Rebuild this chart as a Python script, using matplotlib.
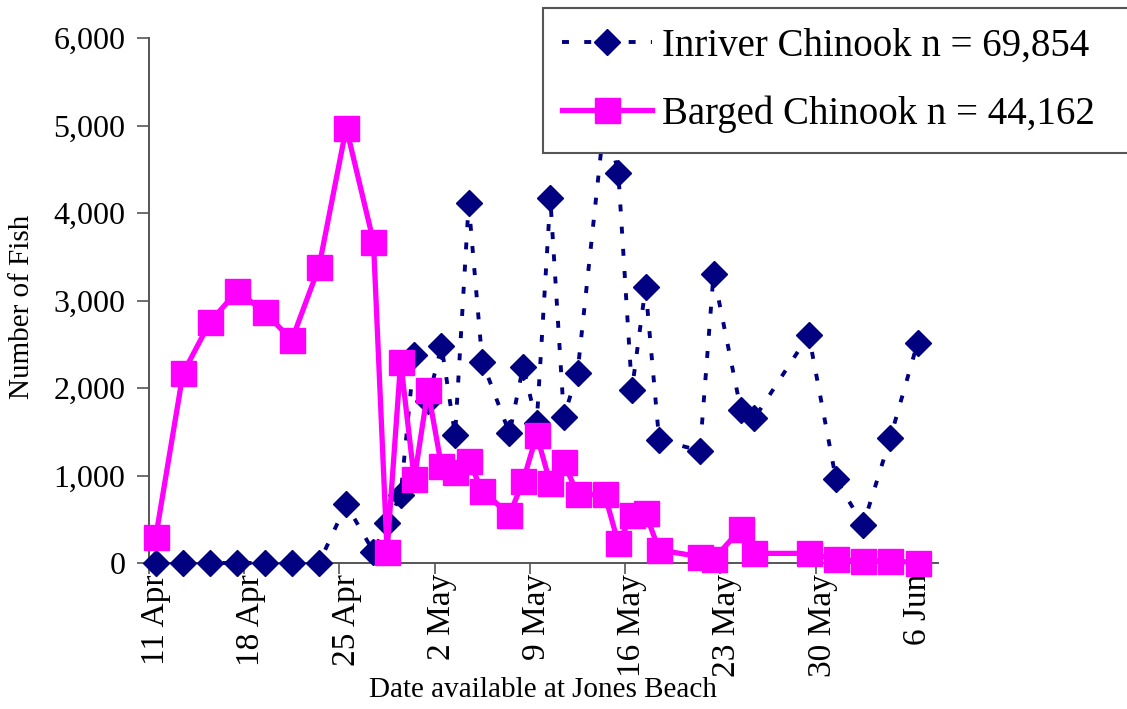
import matplotlib
matplotlib.use("Agg")
import matplotlib.pyplot as plt
from matplotlib.ticker import FuncFormatter, FixedLocator
from matplotlib.transforms import Bbox
import datetime as dt

# ---- data ----
dates = ["11 Apr", "13 Apr", "15 Apr", "17 Apr", "19 Apr", "21 Apr", "23 Apr",
         "25 Apr", "27 Apr", "28 Apr", "29 Apr", "30 Apr", "1 May", "2 May",
         "3 May", "4 May", "5 May", "7 May", "8 May", "9 May", "10 May",
         "11 May", "12 May", "14 May", "15 May", "16 May", "17 May", "18 May",
         "21 May", "22 May", "24 May", "25 May", "29 May", "31 May", "2 Jun",
         "4 Jun", "6 Jun"]
inriver = [0, 0, 0, 0, 0, 0, 0,
           670, 130, 453, 777, 2377, 1850, 2480,
           1463, 4110, 2301, 1482, 2244, 1600, 4168,
           1672, 2175, 5100, 4461, 1977, 3150, 1406,
           1284, 3303, 1754, 1653, 2606, 956, 434,
           1432, 2518]
barged = [300, 2168, 2758, 3109, 2865, 2549, 3387,
          4975, 3673, 130, 2301, 956, 1977, 1109,
          1044, 1170, 827, 549, 937, 1463, 910,
          1150, 785, 785, 225, 549, 568, 149,
          72, 42, 389, 110, 110, 42, 23,
          23, 5]
tick_labels = ["11 Apr", "18 Apr", "25 Apr", "2 May", "9 May", "16 May",
               "23 May", "30 May", "6 Jun"]
yticks = [0, 1000, 2000, 3000, 4000, 5000, 6000]
inriver_label = "Inriver Chinook n = 69,854"
barged_label = "Barged Chinook n = 44,162"

# ---- convert dates to day index from 11 Apr ----
start = dt.datetime(2000, 4, 11)
def day_index(s):
    return (dt.datetime.strptime(s + " 2000", "%d %b %Y") - start).days
x = [day_index(s) for s in dates]
tick_pos = [day_index(s) for s in tick_labels]

plt.rcParams['font.family'] = ['Liberation Serif', 'DejaVu Serif']
plt.rcParams['lines.scale_dashes'] = False

W, H = 1127, 709
fig = plt.figure(figsize=(W / 100, H / 100), dpi=100)
ax = fig.add_axes([149 / W, 1 - 563 / H, (938 - 149) / W, (563 - 38) / H])

navy = "#000080"
magenta = "#FF00FF"

ax.plot(x, inriver, color=navy, lw=2.8, linestyle=(0, (5, 11)),
        marker="D", markersize=13.5, markerfacecolor=navy,
        markeredgecolor=navy, label=inriver_label, clip_on=False, zorder=3)
ax.plot(x, barged, color=magenta, lw=3.8, solid_joinstyle="miter",
        marker="s", markersize=18, markerfacecolor=magenta,
        markeredgecolor=magenta, label=barged_label, clip_on=False, zorder=4)

ax.set_xlim(-0.5, 57.5)
ax.set_ylim(0, 6000)

# major ticks at slot boundaries, labels centred in day slots
ax.xaxis.set_major_locator(FixedLocator([p - 0.5 for p in tick_pos]))
ax.xaxis.set_major_formatter(FuncFormatter(lambda v, p: ""))
ax.set_xticks(tick_pos, minor=True)
ax.set_xticklabels(tick_labels, minor=True, rotation=90, fontsize=24)
ax.tick_params(axis="x", which="minor", length=0, pad=8)
ax.tick_params(axis="x", which="major", length=8, width=1.2, color="#555555",
               direction="out")

ax.set_yticks(yticks)
ax.yaxis.set_major_formatter(FuncFormatter(lambda v, p: f"{int(v):,}"))
ax.tick_params(axis="y", length=9, width=1.2, color="#555555",
               direction="out", labelsize=23, pad=8)

for s in ["top", "right"]:
    ax.spines[s].set_visible(False)
for s in ["left", "bottom"]:
    ax.spines[s].set_color("#555555")
    ax.spines[s].set_linewidth(1.4)

fig.text(543 / W, 1 - 690 / H, "Date available at Jones Beach",
         ha="center", va="center", fontsize=21)
yl = fig.text(22 / W, 1 - 307 / H, "Number of Fish", rotation=90,
              ha="center", va="center", fontsize=21)
yl.set_clip_box(Bbox.from_extents(0, 0, 200, H - 204))
yl.set_clip_on(True)

leg = fig.legend(loc="upper left",
                 bbox_to_anchor=(543 / W, 1 - 149 / H, (1145 - 543) / W, 141 / H),
                 mode="expand",
                 fontsize=28, frameon=True, fancybox=False,
                 handlelength=2.3, handletextpad=0.25, borderpad=0.5,
                 labelspacing=0.8, borderaxespad=0)
leg.get_frame().set_edgecolor("#555555")
leg.get_frame().set_linewidth(1.5)
leg.get_frame().set_alpha(1)
leg.set_zorder(10)

fig.savefig("out.png", dpi=100)
